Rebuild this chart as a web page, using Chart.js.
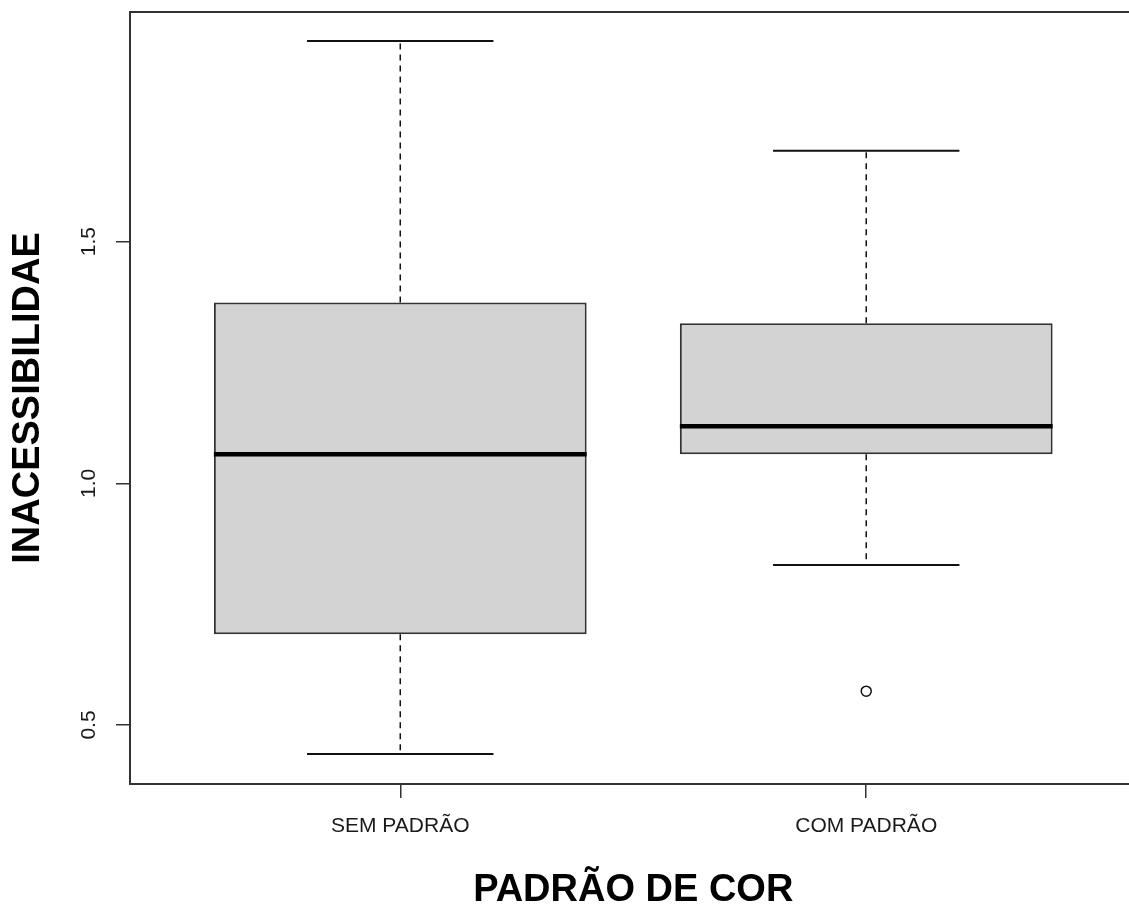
<!DOCTYPE html>
<html>
<head>
<meta charset="utf-8">
<title>Inacessibilidade por padrão de cor</title>
<script src="https://cdn.jsdelivr.net/npm/chart.js@4.4.0/dist/chart.umd.min.js"></script>
<style>
  html, body { margin: 0; padding: 0; background: #fff; overflow: hidden; }
  #wrap { position: relative; width: 1143px; height: 913px; }
</style>
</head>
<body>
<div id="wrap"><canvas id="myChart" width="1143" height="913"></canvas></div>
<script>
// boxplot stats
var categories = ["SEM PADRÃO", "COM PADRÃO"];
var whiskerLow = [0.44, 0.831];
var q1 = [0.688, 1.06];
var median = [1.06, 1.118];
var q3 = [1.374, 1.331];
var whiskerHigh = [1.915, 1.688];
var outliers = [[], [0.57]];
var yTicks = [0.5, 1.0, 1.5];

var boxData = [];
var outlierData = [];
for (var i = 0; i < categories.length; i++) {
  boxData.push({x: i + 1, y: [q1[i], q3[i]]});
  for (var k = 0; k < outliers[i].length; k++) {
    outlierData.push({x: i + 1, y: outliers[i][k]});
  }
}

function noPadding(s) {
  s.paddingTop = 0;
  s.paddingBottom = 0;
  s.paddingLeft = 0;
  s.paddingRight = 0;
}

// whiskers, caps, medians and the plot frame
var boxExtras = {
  id: "boxExtras",
  afterDatasetsDraw: function(chart) {
    var ctx = chart.ctx;
    var xs = chart.scales.x;
    var ys = chart.scales.y;
    ctx.save();
    for (var i = 0; i < categories.length; i++) {
      var cx = xs.getPixelForValue(i + 1);
      var capL = xs.getPixelForValue(i + 1 - 0.2);
      var capR = xs.getPixelForValue(i + 1 + 0.2);
      var boxL = xs.getPixelForValue(i + 1 - 0.4);
      var boxR = xs.getPixelForValue(i + 1 + 0.4);

      ctx.strokeStyle = "#111";
      ctx.lineWidth = 1.5;
      ctx.setLineDash([6, 5]);
      ctx.beginPath();
      ctx.moveTo(cx, ys.getPixelForValue(q3[i]));
      ctx.lineTo(cx, ys.getPixelForValue(whiskerHigh[i]));
      ctx.moveTo(cx, ys.getPixelForValue(q1[i]));
      ctx.lineTo(cx, ys.getPixelForValue(whiskerLow[i]));
      ctx.stroke();

      ctx.setLineDash([]);
      ctx.lineWidth = 2;
      ctx.beginPath();
      ctx.moveTo(capL, ys.getPixelForValue(whiskerHigh[i]));
      ctx.lineTo(capR, ys.getPixelForValue(whiskerHigh[i]));
      ctx.moveTo(capL, ys.getPixelForValue(whiskerLow[i]));
      ctx.lineTo(capR, ys.getPixelForValue(whiskerLow[i]));
      ctx.stroke();

      ctx.lineWidth = 4.5;
      ctx.strokeStyle = "#000";
      ctx.beginPath();
      ctx.moveTo(boxL, ys.getPixelForValue(median[i]));
      ctx.lineTo(boxR, ys.getPixelForValue(median[i]));
      ctx.stroke();
    }
    var a = chart.chartArea;
    ctx.lineWidth = 2;
    ctx.strokeStyle = "#333";
    ctx.strokeRect(a.left, a.top, a.right - a.left, a.bottom - a.top);
    ctx.restore();
  }
};

new Chart("myChart", {
  type: "bar",
  data: {
    datasets: [{
      data: boxData,
      backgroundColor: "#d3d3d3",
      borderColor: "#333",
      borderWidth: 2,
      borderSkipped: false,
      barPercentage: 0.8,
      categoryPercentage: 1
    }, {
      type: "scatter",
      data: outlierData,
      pointStyle: "circle",
      pointRadius: 5,
      pointBorderWidth: 1.5,
      pointBorderColor: "#111",
      pointBackgroundColor: "rgba(0,0,0,0)"
    }]
  },
  options: {
    responsive: false,
    animation: false,
    devicePixelRatio: 1,
    layout: { padding: { top: 12, right: 0, left: 0, bottom: 0 } },
    plugins: { legend: { display: false }, tooltip: { enabled: false } },
    scales: {
      x: {
        type: "linear",
        min: 0.42,
        max: 2.58,
        offset: false,
        afterBuildTicks: function(s) { s.ticks = categories.map(function(c, i) { return {value: i + 1}; }); },
        afterFit: function(s) { s.height = 129; noPadding(s); },
        grid: { offset: false, drawOnChartArea: false, tickLength: 14, color: "#333", lineWidth: 1.5 },
        border: { display: false },
        ticks: {
          color: "#1a1a1a",
          font: { family: "Liberation Sans", size: 21 },
          padding: 16,
          maxRotation: 0,
          callback: function(v) { return categories[v - 1]; }
        },
        title: {
          display: true,
          text: "PADRÃO DE COR",
          color: "#000",
          font: { family: "Liberation Sans", size: 38, weight: "bold" },
          padding: { top: 0, bottom: 0 }
        }
      },
      y: {
        min: 0.378,
        max: 1.975,
        afterBuildTicks: function(s) { s.ticks = yTicks.map(function(v) { return {value: v}; }); },
        afterFit: function(s) { s.width = 130; noPadding(s); },
        grid: { drawOnChartArea: false, tickLength: 14, color: "#333", lineWidth: 1.5 },
        border: { display: false },
        ticks: {
          color: "#1a1a1a",
          font: { family: "Liberation Sans", size: 21 },
          padding: 12,
          minRotation: 90,
          maxRotation: 90,
          crossAlign: "center",
          callback: function(v) { return v.toFixed(1); }
        },
        title: {
          display: true,
          text: "INACESSIBILIDAE",
          color: "#000",
          font: { family: "Liberation Sans", size: 38, weight: "bold" },
          padding: { top: 6, bottom: 0 }
        }
      }
    }
  },
  plugins: [boxExtras]
});
</script>
</body>
</html>
